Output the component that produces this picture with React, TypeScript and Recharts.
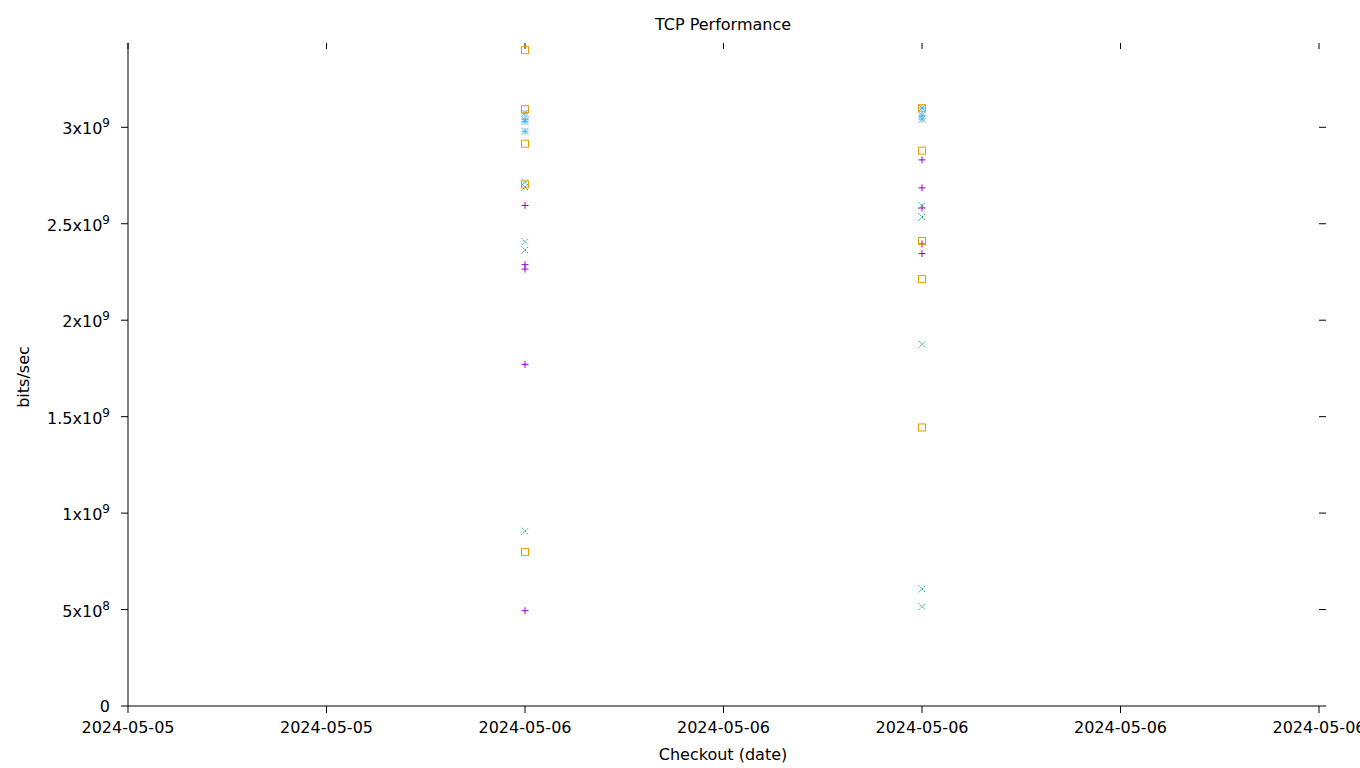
import React from "react";
import { ScatterChart, Scatter, XAxis, YAxis } from "recharts";

// x tick labels (checkout dates), one per tick position
const dateTicks = [
  "2024-05-05",
  "2024-05-05",
  "2024-05-06",
  "2024-05-06",
  "2024-05-06",
  "2024-05-06",
  "2024-05-06",
];

// the two checkouts sit on tick 2 and tick 4
const firstRun = 2;
const secondRun = 4;

// bits/sec per marker type
const plusFirst = [2.595e9, 2.288e9, 2.265e9, 1.771e9, 0.494e9];
const plusSecond = [2.831e9, 2.686e9, 2.582e9, 2.395e9, 2.345e9];
const crossFirst = [2.715e9, 2.69e9, 2.407e9, 2.364e9, 0.906e9];
const crossSecond = [2.594e9, 2.535e9, 1.875e9, 0.607e9, 0.515e9];
const starFirst = [3.073e9, 3.04e9, 3.03e9, 2.979e9];
const starSecond = [3.1e9, 3.062e9, 3.042e9];
const squareFirst = [3.4e9, 3.094e9, 2.915e9, 2.704e9, 0.799e9];
const squareSecond = [3.099e9, 2.879e9, 2.411e9, 2.213e9, 1.444e9];

const yTicks = [0, 5e8, 1e9, 1.5e9, 2e9, 2.5e9, 3e9];
const xTicks = [0, 1, 2, 3, 4, 5, 6];
const yMax = 3.437e9;

const FONT = "'DejaVu Sans', sans-serif";
const FS = 16;

const toPoints = (first: number[], second: number[]) => [
  ...first.map((y) => ({ x: firstRun, y })),
  ...second.map((y) => ({ x: secondRun, y })),
];

const plusData = toPoints(plusFirst, plusSecond);
const crossData = toPoints(crossFirst, crossSecond);
const starData = toPoints(starFirst, starSecond);
const squareData = toPoints(squareFirst, squareSecond);

const r = 3.5;

const PlusShape = (p: any) => (
  <g stroke="#9400d3" strokeWidth={1}>
    <line x1={p.cx - r} y1={p.cy} x2={p.cx + r} y2={p.cy} />
    <line x1={p.cx} y1={p.cy - r} x2={p.cx} y2={p.cy + r} />
  </g>
);

const CrossShape = (p: any) => (
  <g stroke="#009e73" strokeWidth={1} strokeDasharray="1.5 1">
    <line x1={p.cx - r} y1={p.cy - r} x2={p.cx + r} y2={p.cy + r} />
    <line x1={p.cx - r} y1={p.cy + r} x2={p.cx + r} y2={p.cy - r} />
  </g>
);

const StarShape = (p: any) => (
  <g stroke="#56b4e9" strokeWidth={1}>
    <line x1={p.cx - r} y1={p.cy} x2={p.cx + r} y2={p.cy} />
    <line x1={p.cx} y1={p.cy - r} x2={p.cx} y2={p.cy + r} />
    <line x1={p.cx - r} y1={p.cy - r} x2={p.cx + r} y2={p.cy + r} />
    <line x1={p.cx - r} y1={p.cy + r} x2={p.cx + r} y2={p.cy - r} />
  </g>
);

const SquareShape = (p: any) => (
  <rect
    x={p.cx - r}
    y={p.cy - r}
    width={r * 2}
    height={r * 2}
    fill="none"
    stroke="#e69f00"
    strokeWidth={1}
  />
);

// y labels written as "3x10^9" with a raised exponent
const YTick = (props: any) => {
  const { x, y, payload } = props;
  const v: number = payload.value;
  if (v === 0) {
    return (
      <text x={x - 9} y={y + 6} textAnchor="end" fontSize={FS} fontFamily={FONT} fill="#000">
        0
      </text>
    );
  }
  const exp = Math.floor(Math.log10(v));
  const mant = +(v / Math.pow(10, exp)).toFixed(1);
  return (
    <text x={x - 9} y={y + 7} textAnchor="end" fontSize={FS} fontFamily={FONT} fill="#000">
      <tspan>{`${mant}x10`}</tspan>
      <tspan dy={-7} fontSize={12}>
        {exp}
      </tspan>
    </text>
  );
};

const XTick = (props: any) => {
  const { x, y, payload } = props;
  return (
    <text x={x} y={y + 18} textAnchor="middle" fontSize={FS} fontFamily={FONT} fill="#000">
      {dateTicks[payload.value]}
    </text>
  );
};

const Empty = () => <g />;

export default function App() {
  return (
    <div style={{ position: "absolute", left: 0, top: 0, background: "#fff" }}>
      <ScatterChart
        width={1360}
        height={768}
        margin={{ top: 43, right: 34, left: 28, bottom: 12 }}
      >
        <text x={723} y={30} textAnchor="middle" fontSize={FS} fontFamily={FONT} fill="#000">
          TCP Performance
        </text>
        <text
          x={29}
          y={377}
          textAnchor="middle"
          fontSize={FS}
          fontFamily={FONT}
          fill="#000"
          transform="rotate(-90 29 377)"
        >
          bits/sec
        </text>
        <text x={723} y={760} textAnchor="middle" fontSize={FS} fontFamily={FONT} fill="#000">
          Checkout (date)
        </text>
        <XAxis
          xAxisId="bottom"
          type="number"
          dataKey="x"
          domain={[0, 6]}
          ticks={xTicks}
          height={50}
          tickSize={7}
          axisLine={{ stroke: "#000" }}
          tickLine={{ stroke: "#000" }}
          tick={<XTick />}
          interval={0}
        />
        {/* mirrored ticks along the top edge */}
        <XAxis
          xAxisId="top"
          orientation="top"
          type="number"
          dataKey="x"
          domain={[0, 6]}
          allowDataOverflow
          ticks={xTicks}
          height={1}
          tickSize={6}
          mirror
          axisLine={false}
          tickLine={{ stroke: "#000" }}
          tick={<Empty />}
          interval={0}
        />
        <YAxis
          yAxisId="left"
          type="number"
          dataKey="y"
          domain={[0, yMax]}
          ticks={yTicks}
          width={100}
          tickSize={7}
          axisLine={{ stroke: "#000" }}
          tickLine={{ stroke: "#000" }}
          tick={<YTick />}
          interval={0}
        />
        {/* mirrored ticks along the right edge */}
        <YAxis
          yAxisId="right"
          orientation="right"
          type="number"
          dataKey="y"
          domain={[0, yMax]}
          allowDataOverflow
          ticks={yTicks}
          width={7}
          tickSize={7}
          axisLine={false}
          tickLine={{ stroke: "#000" }}
          tick={<Empty />}
          interval={0}
        />
        <Scatter
          name="plus"
          data={plusData}
          xAxisId="bottom"
          yAxisId="left"
          shape={<PlusShape />}
          isAnimationActive={false}
        />
        <Scatter
          name="cross"
          data={crossData}
          xAxisId="bottom"
          yAxisId="left"
          shape={<CrossShape />}
          isAnimationActive={false}
        />
        <Scatter
          name="star"
          data={starData}
          xAxisId="bottom"
          yAxisId="left"
          shape={<StarShape />}
          isAnimationActive={false}
        />
        <Scatter
          name="square"
          data={squareData}
          xAxisId="bottom"
          yAxisId="left"
          shape={<SquareShape />}
          isAnimationActive={false}
        />
        {/* invisible series so the mirror axes get laid out */}
        <Scatter
          name="mirror"
          data={squareData}
          xAxisId="top"
          yAxisId="right"
          shape={<Empty />}
          legendType="none"
          isAnimationActive={false}
        />
      </ScatterChart>
    </div>
  );
}
